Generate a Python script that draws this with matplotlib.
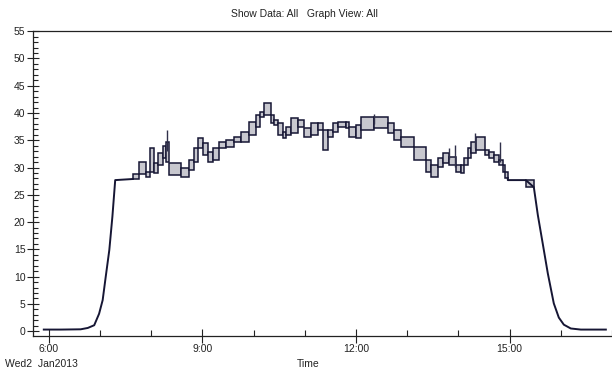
import matplotlib.pyplot as plt
from matplotlib.ticker import MultipleLocator

plt.rcParams['font.family'] = ['Liberation Sans Narrow', 'Liberation Sans', 'DejaVu Sans']

# smooth rise in the morning (hours, value)
rise_t = [5.9, 6.23, 6.62, 6.76, 6.885, 6.98, 7.05, 7.11, 7.18, 7.24, 7.295, 7.64]
rise_v = [0.3, 0.3, 0.35, 0.6, 1.1, 3.2, 5.7, 10.0, 14.9, 21.0, 27.7, 27.9]

# fall in the afternoon
fall_t = [14.965, 14.965, 15.316, 15.473, 15.551, 15.648, 15.746, 15.863, 15.961, 16.059, 16.195, 16.391, 16.88]
fall_v = [28.1, 27.7, 27.7, 26.4, 21.3, 16.0, 10.6, 5.1, 2.5, 1.2, 0.5, 0.3, 0.3]

# min/max boxes: start hour, end hour, low, high
box_t0 = [7.641, 7.758, 7.895, 7.973, 8.051, 8.129, 8.227, 8.285, 8.344, 8.578,
          8.734, 8.832, 8.910, 9.008, 9.105, 9.203, 9.320, 9.457, 9.613, 9.750,
          9.906, 10.043, 10.121, 10.199, 10.336, 10.395, 10.473, 10.570, 10.629, 10.727,
          10.863, 10.980, 11.117, 11.254, 11.352, 11.449, 11.547, 11.645, 11.801, 11.859,
          11.996, 12.094, 12.348, 12.621, 12.738, 12.875, 13.129, 13.363, 13.461, 13.598,
          13.695, 13.813, 13.949, 14.047, 14.105, 14.184, 14.242, 14.340, 14.516, 14.594,
          14.691, 14.789, 14.867, 14.906, 15.316]
box_t1 = [7.758, 7.895, 7.973, 8.051, 8.129, 8.227, 8.285, 8.344, 8.578, 8.734,
          8.832, 8.910, 9.008, 9.105, 9.203, 9.320, 9.457, 9.613, 9.750, 9.906,
          10.043, 10.121, 10.199, 10.336, 10.395, 10.473, 10.570, 10.629, 10.727, 10.863,
          10.980, 11.117, 11.254, 11.352, 11.449, 11.547, 11.645, 11.801, 11.859, 11.996,
          12.094, 12.348, 12.621, 12.738, 12.875, 13.129, 13.363, 13.461, 13.598, 13.695,
          13.813, 13.949, 14.047, 14.105, 14.184, 14.242, 14.340, 14.516, 14.594, 14.691,
          14.789, 14.867, 14.906, 14.965, 15.473]
box_lo = [27.9, 28.9, 28.3, 29.2, 29.0, 30.5, 31.7, 31.0, 28.6, 28.3,
          29.5, 31.0, 33.6, 32.3, 31.0, 31.4, 33.6, 33.8, 34.7, 34.7,
          36.0, 37.4, 39.3, 39.6, 38.2, 37.8, 36.0, 35.4, 36.0, 36.3,
          37.4, 35.6, 36.0, 36.9, 33.2, 35.6, 36.5, 37.4, 37.2, 35.6,
          35.4, 36.9, 37.2, 36.3, 35.0, 33.8, 31.4, 29.2, 28.3, 30.1,
          30.8, 30.5, 29.2, 29.0, 30.5, 31.7, 32.7, 33.2, 32.3, 31.7,
          31.0, 30.5, 29.2, 28.1, 26.4]
box_hi = [28.9, 31.0, 29.2, 33.6, 30.8, 32.7, 34.0, 34.7, 30.8, 29.9,
          31.4, 33.6, 35.4, 34.5, 32.8, 33.6, 34.7, 35.0, 35.6, 36.5,
          38.3, 39.6, 40.2, 41.8, 39.6, 38.7, 38.2, 36.5, 37.4, 39.0,
          38.7, 37.2, 38.2, 38.2, 36.9, 36.9, 38.2, 38.3, 38.3, 37.4,
          37.8, 39.3, 39.3, 38.2, 36.9, 35.6, 33.8, 31.4, 30.5, 31.7,
          32.7, 32.0, 30.5, 30.5, 31.7, 33.6, 34.7, 35.6, 33.2, 32.8,
          32.3, 31.4, 30.5, 29.2, 27.7]

# thin spikes: hour, low, high
spike_t = [8.305, 12.348, 13.813, 13.93, 14.32, 14.81]
spike_lo = [33.0, 38.0, 31.5, 30.1, 33.5, 31.0]
spike_hi = [36.9, 39.8, 33.6, 34.2, 36.3, 34.7]

xtick_pos = [6, 9, 12, 15]
xtick_lab = ['6:00', '9:00', '12:00', '15:00']

dark = '#161634'

fig = plt.figure(figsize=(6.12, 3.71), dpi=100)
ax = fig.add_axes([0.054, 0.094, 0.946, 0.822])

# boxes
widths = [b - a for a, b in zip(box_t0, box_t1)]
heights = [h - l for l, h in zip(box_lo, box_hi)]
ax.bar(box_t0, heights, width=widths, bottom=box_lo, align='edge',
       color='#c8c8cf', edgecolor=dark, linewidth=1.1, zorder=2)

# curves
ax.plot(rise_t, rise_v, color=dark, lw=1.4, zorder=3)
ax.plot(fall_t, fall_v, color=dark, lw=1.4, zorder=3)
ax.vlines(spike_t, spike_lo, spike_hi, color='#30304a', lw=1.0, zorder=3)

ax.set_xlim(5.69, 17.0)
ax.set_ylim(-0.9, 55)

ax.spines['right'].set_visible(False)
for s in ['left', 'top', 'bottom']:
    ax.spines[s].set_linewidth(0.9)
    ax.spines[s].set_color('#222222')

ax.set_yticks(range(0, 56, 5))
ax.yaxis.set_minor_locator(MultipleLocator(1))
ax.set_xticks(xtick_pos)
ax.set_xticklabels(xtick_lab)
ax.xaxis.set_minor_locator(MultipleLocator(1))

ax.tick_params(axis='y', which='major', direction='inout', length=9, width=0.8,
               labelsize=7.5, pad=1, colors='#222222')
ax.tick_params(axis='y', which='minor', direction='in', length=3.5, width=0.8,
               colors='#222222')
ax.tick_params(axis='x', which='major', direction='inout', length=10, width=0.8,
               labelsize=7.5, pad=1, colors='#222222')
ax.tick_params(axis='x', which='minor', direction='in', length=4, width=0.8,
               colors='#222222')

fig.text(0.498, 0.962, 'Show Data: All   Graph View: All', ha='center', va='center',
         fontsize=7.5, color='#222222')
fig.text(0.008, 0.019, 'Wed2  Jan2013', ha='left', va='center', fontsize=7.5,
         color='#222222')
fig.text(0.503, 0.019, 'Time', ha='center', va='center', fontsize=7.5, color='#222222')

plt.savefig('out.png', dpi=100)
